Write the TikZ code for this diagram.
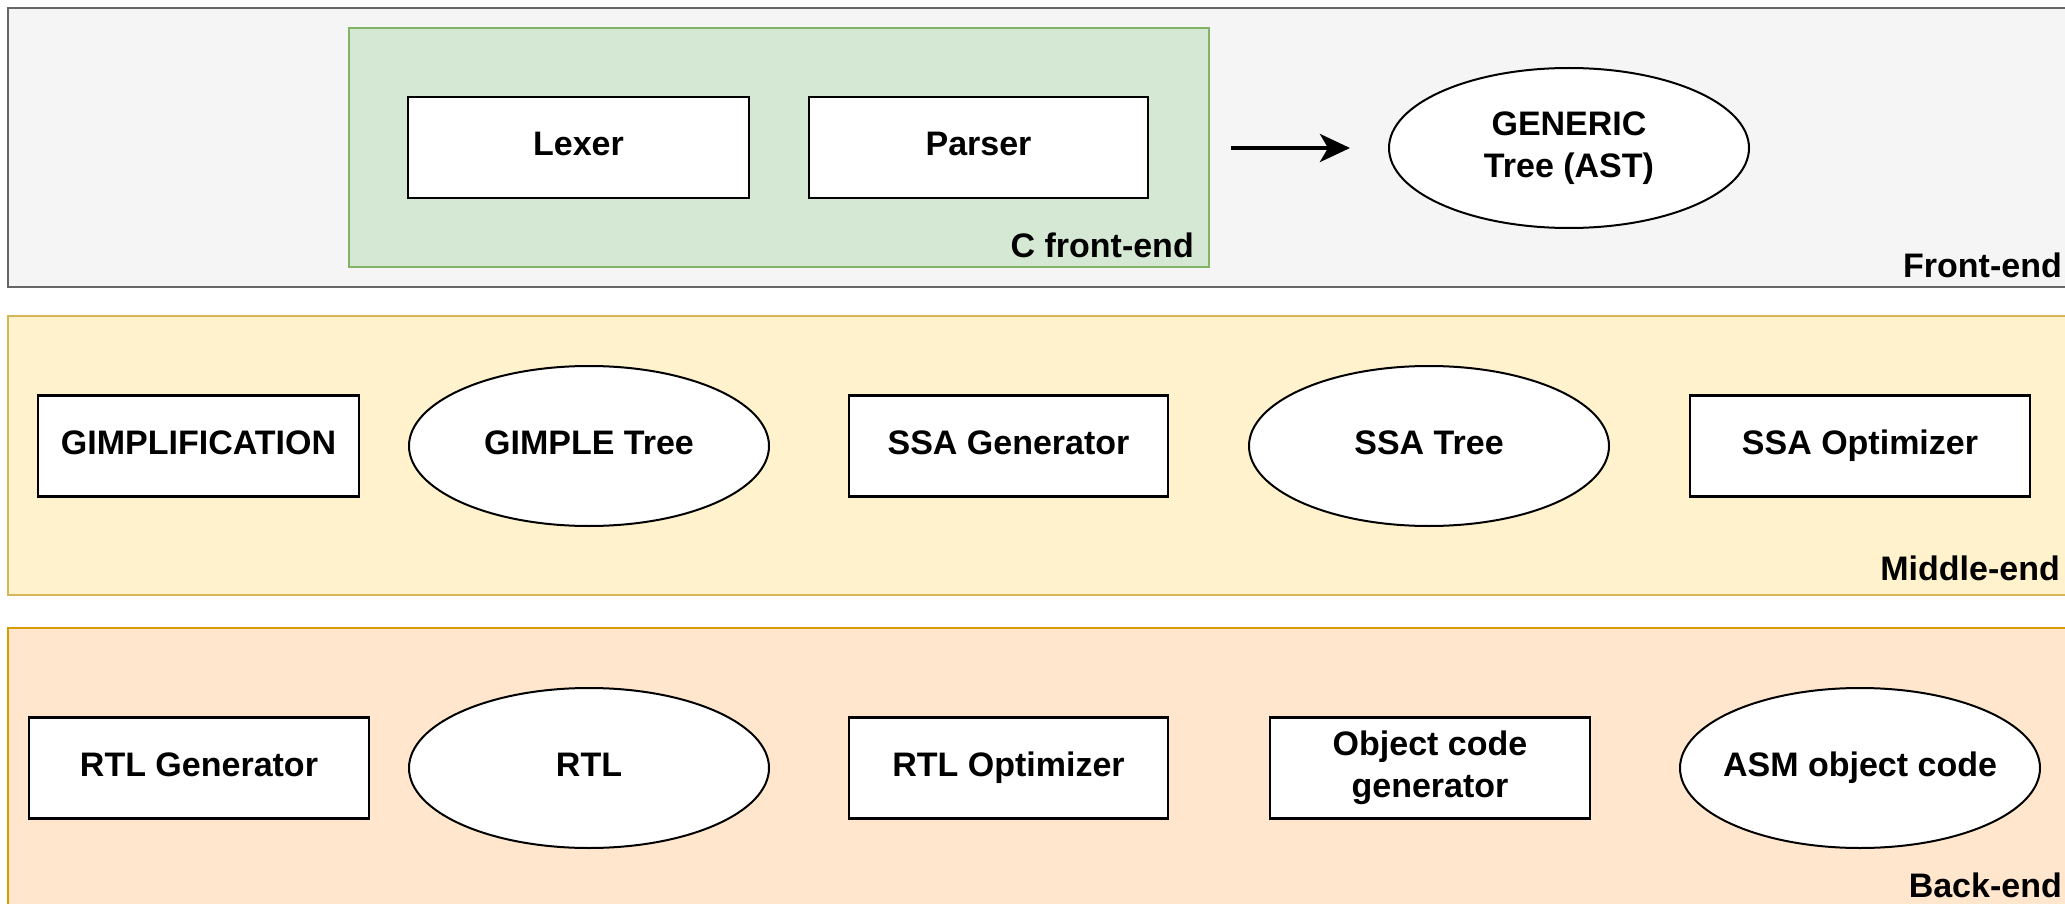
\documentclass[tikz,border=0pt]{standalone}
\usepackage{fontspec}
\setmainfont{Liberation Sans}
\usetikzlibrary{shapes.geometric,arrows.meta}
\definecolor{frontfill}{HTML}{F5F5F5}
\definecolor{frontline}{HTML}{666666}
\definecolor{greenfill}{HTML}{D5E8D4}
\definecolor{greenline}{HTML}{82B366}
\definecolor{midfill}{HTML}{FFF2CC}
\definecolor{midline}{HTML}{D6B656}
\definecolor{backfill}{HTML}{FFE6CC}
\definecolor{backline}{HTML}{D79B00}
\tikzset{
  lane/.style={line width=2pt, inner sep=0pt},
  boldtext/.style={font=\fontsize{34}{41.5}\selectfont\bfseries},
  oneline/.style={text height=25pt, text depth=9pt},
  stagebox/.style={rectangle, draw=black, fill=white, line width=2.4pt,
    minimum height=101pt, inner sep=0pt, align=center, boldtext},
  treenode/.style={ellipse, draw=black, fill=white, line width=2pt,
    minimum width=360pt, minimum height=160pt, inner xsep=-14pt, inner ysep=0pt,
    align=center, boldtext},
  lanelabel/.style={anchor=east, inner sep=0pt, boldtext}
}
\begin{document}
\begin{tikzpicture}[x=1pt,y=-1pt]
\useasboundingbox (0,0) rectangle (2065,904);
\clip (0,0) rectangle (2065,904);
\fill[white] (0,0) rectangle (2065,904);

% the three compiler stages
\draw[lane, draw=frontline, fill=frontfill] (8,8) rectangle (2120,287);
\draw[lane, draw=midline, fill=midfill] (8,316) rectangle (2120,595);
\draw[lane, draw=backline, fill=backfill] (8,628) rectangle (2120,960);

% front-end
\node[rectangle, draw=greenline, fill=greenfill, line width=2pt,
  minimum width=860pt, minimum height=239pt, inner sep=0pt] (cfe) at (779,147.5) {};
\node[lanelabel] (cfelabel) at (1194,245) {C front-end};
\node[stagebox, oneline, minimum width=341pt] (lexer) at (578.5,147.5) {Lexer};
\node[stagebox, oneline, minimum width=339pt] (parser) at (978.5,147.5) {Parser};
\node[treenode] (generic) at (1569,148) {GENERIC\\Tree (AST)};
\draw[line width=4pt, -{Stealth[length=30pt,width=28pt,inset=8pt]},
  shorten <=21pt, shorten >=38pt] (cfe.east |- generic.west) -- (generic.west);
\node[lanelabel] (frontlabel) at (2062,265) {Front-end};

% middle-end
\node[stagebox, oneline, minimum width=321pt] (gimpl) at (198.5,446) {GIMPLIFICATION};
\node[treenode, oneline] (gimple) at (589,446) {GIMPLE Tree};
\node[stagebox, oneline, minimum width=319pt] (ssagen) at (1008.5,446) {SSA Generator};
\node[treenode, oneline] (ssatree) at (1429,446) {SSA Tree};
\node[stagebox, oneline, minimum width=340pt] (ssaopt) at (1860,446) {SSA Optimizer};
\node[lanelabel] (midlabel) at (2060,568) {Middle-end};

% back-end
\node[stagebox, oneline, minimum width=340pt] (rtlgen) at (199,768) {RTL Generator};
\node[treenode, oneline] (rtl) at (589,768) {RTL};
\node[stagebox, oneline, minimum width=319pt] (rtlopt) at (1008.5,768) {RTL Optimizer};
\node[stagebox, minimum width=320pt] (objgen) at (1430,768) {Object code\\generator};
\node[treenode, oneline] (asm) at (1860,768) {ASM object code};
\node[lanelabel] (backlabel) at (2062,885) {Back-end};
\end{tikzpicture}
\end{document}
